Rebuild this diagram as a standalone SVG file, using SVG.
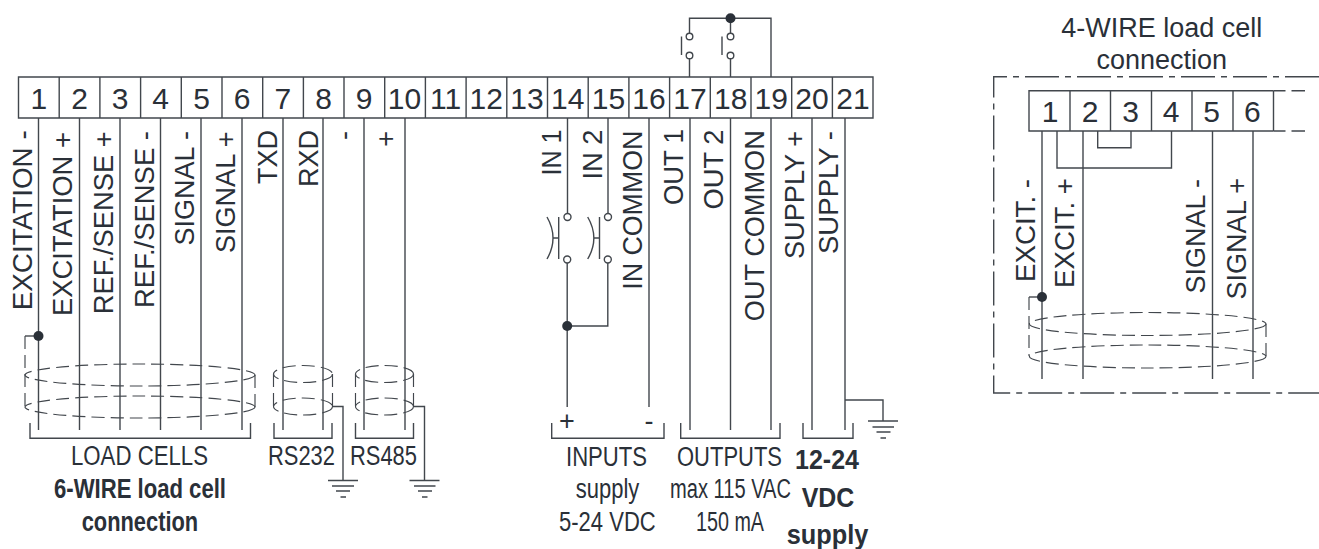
<svg xmlns="http://www.w3.org/2000/svg" width="1319" height="549" viewBox="0 0 1319 549">
<style>
text{font-family:"Liberation Sans",Arial,sans-serif;font-size:27px;fill:#2a3038}
.b{font-weight:bold}
.m{text-anchor:middle}
.v{font-size:28px}
.e{text-anchor:end}
.n{font-size:30px;text-anchor:middle}
line,path,ellipse,rect,circle{fill:none;stroke:#42474d;stroke-width:1.4}
.d{stroke-dasharray:13 6;stroke-width:1.15}
.dd{stroke-dasharray:34 6 6 6}
.j{fill:#2a3038;stroke:none}
.c{fill:#fff}
</style>
<rect width="1319" height="549" style="fill:#fff;stroke:none"/>
<g id="terminal-strip">
<path d="M18.500 77H873V118H18.500ZM59.200 77V118M99.900 77V118M140.600 77V118M181.300 77V118M222 77V118M262.700 77V118M303.400 77V118M344 77V118M384.700 77V118M425.400 77V118M466.100 77V118M506.800 77V118M547.500 77V118M588.200 77V118M628.900 77V118M669.600 77V118M710.300 77V118M751 77V118M791.700 77V118M832.400 77V118"/>
<text class="n" x="38.800" y="109">1</text><text class="n" x="79.500" y="109">2</text><text class="n" x="120" y="109">3</text><text class="n" x="160.700" y="109">4</text><text class="n" x="201.500" y="109">5</text><text class="n" x="242" y="109">6</text><text class="n" x="282.800" y="109">7</text><text class="n" x="323.500" y="109">8</text><text class="n" x="364" y="109">9</text><text class="n" x="404.500" y="109">10</text><text class="n" x="445.500" y="109">11</text><text class="n" x="486.200" y="109">12</text><text class="n" x="527" y="109">13</text><text class="n" x="567.800" y="109">14</text><text class="n" x="608.500" y="109">15</text><text class="n" x="649" y="109">16</text><text class="n" x="690" y="109">17</text><text class="n" x="730.700" y="109">18</text><text class="n" x="771.300" y="109">19</text><text class="n" x="812" y="109">20</text><text class="n" x="853" y="109">21</text>
</g>
<g id="terminal-labels">
<text class="v" transform="translate(31.700,310.300) rotate(-90)" textLength="180" lengthAdjust="spacingAndGlyphs">EXCITATION -</text>
<text class="v" transform="translate(72.300,316) rotate(-90)" textLength="184" lengthAdjust="spacingAndGlyphs">EXCITATION +</text>
<text class="v" transform="translate(113.300,314.300) rotate(-90)" textLength="183" lengthAdjust="spacingAndGlyphs">REF./SENSE +</text>
<text class="v" transform="translate(154,308) rotate(-90)" textLength="177" lengthAdjust="spacingAndGlyphs">REF./SENSE -</text>
<text class="v" transform="translate(193.700,245.500) rotate(-90)" textLength="114.500" lengthAdjust="spacingAndGlyphs">SIGNAL -</text>
<text class="v" transform="translate(235,253) rotate(-90)" textLength="121.500" lengthAdjust="spacingAndGlyphs">SIGNAL +</text>
<text class="v" transform="translate(276.700,184) rotate(-90)" textLength="54" lengthAdjust="spacingAndGlyphs">TXD</text>
<text class="v" transform="translate(317.700,187) rotate(-90)" textLength="57" lengthAdjust="spacingAndGlyphs">RXD</text>
<text class="e" transform="translate(353,131) rotate(-90)">-</text>
<text class="e" transform="translate(395,131) rotate(-90)">+</text>
<text class="v" transform="translate(560.700,175.500) rotate(-90)" textLength="46" lengthAdjust="spacingAndGlyphs">IN 1</text>
<text class="v" transform="translate(601.700,179.500) rotate(-90)" textLength="50" lengthAdjust="spacingAndGlyphs">IN 2</text>
<text class="v" transform="translate(642.300,289.700) rotate(-90)" textLength="159" lengthAdjust="spacingAndGlyphs">IN COMMON</text>
<text class="v" transform="translate(682.700,205) rotate(-90)" textLength="76" lengthAdjust="spacingAndGlyphs">OUT 1</text>
<text class="v" transform="translate(723.300,209.500) rotate(-90)" textLength="80" lengthAdjust="spacingAndGlyphs">OUT 2</text>
<text class="v" transform="translate(764.300,321.200) rotate(-90)" textLength="191" lengthAdjust="spacingAndGlyphs">OUT COMMON</text>
<text class="v" transform="translate(804.300,259) rotate(-90)" textLength="128" lengthAdjust="spacingAndGlyphs">SUPPLY +</text>
<text class="v" transform="translate(837.700,254) rotate(-90)" textLength="123" lengthAdjust="spacingAndGlyphs">SUPPLY -</text>
</g>
<g id="connectors">
<path d="M38.500 118V430M79.500 118V430M120 118V430M160.500 118V430M201 118V430M242 118V430M283 118V430M323 118V430M364 118V430M405 118V430"/>
<path d="M567.500 118V213.500M567.200 263V407M608 118V213.500M607.800 263V326H567.200M649 118V407M690 118V430M730.500 118V430M771 118V430M812 118V430M845 118V430"/>
<path d="M689.500 77V59M730.500 77V59M689.500 33V18.300H771V77M730.500 33V18.300"/>
<path d="M332 406.500H343V481M413.500 406.500H424.500V481M845 400H883V421"/>
</g>
<g id="shield-load-cells">
<path d="M38.500 336H25"/><path class="d" d="M25 336V407M255 375V407"/>
<ellipse class="d" cx="140" cy="375" rx="115" ry="11"/><ellipse class="d" cx="140" cy="407" rx="115" ry="11"/>
<circle class="j" cx="38.500" cy="336" r="5"/>
</g>
<g id="shield-rs232">
<path class="d" d="M273.500 374V407M332.500 374V407"/>
<ellipse class="d" cx="303" cy="374" rx="29.500" ry="8.500"/><ellipse class="d" cx="303" cy="406.500" rx="29.500" ry="8.500"/>
</g>
<g id="shield-rs485">
<path class="d" d="M355.500 374V407M413.500 374V407"/>
<ellipse class="d" cx="384.500" cy="374" rx="29" ry="8.500"/><ellipse class="d" cx="384.500" cy="406.500" rx="29" ry="8.500"/>
</g>
<g id="grounds">
<path d="M328 480.500H358M332 486H354M336 491H350M340.500 497H346"/>
<path d="M409.500 480.500H439.500M414 486H435.500M418 491H432M422 497H427.500"/>
<path d="M868 421H898M872.500 427H894M876.500 432H890.500M880.500 438H886"/>
</g>
<g id="brackets">
<path d="M30 423V438.300H250.500V423M274 423V438.300H332V423M355.500 423V438.300H413.500V423M551.700 423V438.300H664V423M680.700 423V438.300H780V423M803 423V438.300H853V423"/>
<text class="m" x="567" y="430">+</text><text class="m" x="649" y="430">-</text>
</g>
<g id="output-contacts">
<circle class="c" cx="689.500" cy="36.500" r="3.300"/><circle class="c" cx="689.500" cy="55.500" r="3.300"/><circle class="c" cx="730.500" cy="36.500" r="3.300"/><circle class="c" cx="730.500" cy="55.500" r="3.300"/>
<path d="M681.500 36.500V55M722 36.500V55"/>
<circle class="j" cx="730.500" cy="18.300" r="5"/>
</g>
<g id="input-contacts">
<circle class="c" cx="567.500" cy="217" r="3.500"/><circle class="c" cx="567.200" cy="259.500" r="3.500"/><circle class="c" cx="608" cy="217" r="3.500"/><circle class="c" cx="607.800" cy="259.500" r="3.500"/>
<path d="M558.700 217V259M558.700 238H553M547 217Q559 238 547 259M599.500 217V259M599.500 238H594M587.700 217Q600 238 587.700 259"/>
<circle class="j" cx="567.200" cy="326" r="5"/>
</g>
<g id="bottom-labels">
<text x="71" y="465" textLength="137" lengthAdjust="spacingAndGlyphs">LOAD CELLS</text>
<text x="268" y="465" textLength="67" lengthAdjust="spacingAndGlyphs">RS232</text>
<text x="350" y="465" textLength="67" lengthAdjust="spacingAndGlyphs">RS485</text>
<text class="b" x="54" y="498" textLength="172" lengthAdjust="spacingAndGlyphs">6-WIRE load cell</text>
<text class="b" x="81.700" y="530.700" textLength="116.500" lengthAdjust="spacingAndGlyphs">connection</text>
<text x="566" y="465.700" textLength="81" lengthAdjust="spacingAndGlyphs">INPUTS</text>
<text x="575.700" y="498" textLength="63.600" lengthAdjust="spacingAndGlyphs">supply</text>
<text x="559" y="530.700" textLength="96.700" lengthAdjust="spacingAndGlyphs">5-24 VDC</text>
<text x="677" y="465.700" textLength="105" lengthAdjust="spacingAndGlyphs">OUTPUTS</text>
<text x="670" y="498" textLength="121" lengthAdjust="spacingAndGlyphs">max 115 VAC</text>
<text x="696" y="530.700" textLength="68" lengthAdjust="spacingAndGlyphs">150 mA</text>
<text class="b" x="795" y="469.300" textLength="64" lengthAdjust="spacingAndGlyphs">12-24</text>
<text class="b" x="801.700" y="506.700" textLength="52.600" lengthAdjust="spacingAndGlyphs">VDC</text>
<text class="b" x="786.700" y="544" textLength="81.600" lengthAdjust="spacingAndGlyphs">supply</text>
</g>
<g id="four-wire">
<text class="m" x="1161.700" y="37">4-WIRE load cell</text>
<text class="m" x="1161.700" y="69">connection</text>
<path class="dd" d="M1319 76.800H993.700V393H1319"/>
<path d="M1273.500 90.700H1029V131H1273.500M1070 90.700V131M1110.500 90.700V131M1151.500 90.700V131M1192 90.700V131M1233 90.700V131M1273.500 90.700V131"/>
<path class="dd" d="M1273.500 90.700H1305M1273.500 131H1305" style="stroke-dasharray:12 6 20 0"/>
<text class="n" x="1050" y="121.500">1</text><text class="n" x="1090.200" y="121.500">2</text><text class="n" x="1130.700" y="121.500">3</text><text class="n" x="1171" y="121.500">4</text><text class="n" x="1211.700" y="121.500">5</text><text class="n" x="1252.300" y="121.500">6</text>
<path d="M1042 131V379M1083 131V379M1212.500 131V379M1253 131V379M1057 131V168H1171.500V131M1097.700 131V147.700H1131V131"/>
<text class="v" transform="translate(1035,282) rotate(-90)" textLength="103" lengthAdjust="spacingAndGlyphs">EXCIT. -</text>
<text class="v" transform="translate(1074,288) rotate(-90)" textLength="110" lengthAdjust="spacingAndGlyphs">EXCIT. +</text>
<text class="v" transform="translate(1205,293.500) rotate(-90)" textLength="114.500" lengthAdjust="spacingAndGlyphs">SIGNAL -</text>
<text class="v" transform="translate(1246,299.500) rotate(-90)" textLength="121.500" lengthAdjust="spacingAndGlyphs">SIGNAL +</text>
<path d="M1042 297H1029"/><path class="d" d="M1029 297V356M1266 324V356"/>
<ellipse class="d" cx="1147.700" cy="324" rx="118.300" ry="11.500"/><ellipse class="d" cx="1147.700" cy="356.500" rx="118.300" ry="11.500"/>
<circle class="j" cx="1042" cy="297" r="5"/>
</g>
</svg>
